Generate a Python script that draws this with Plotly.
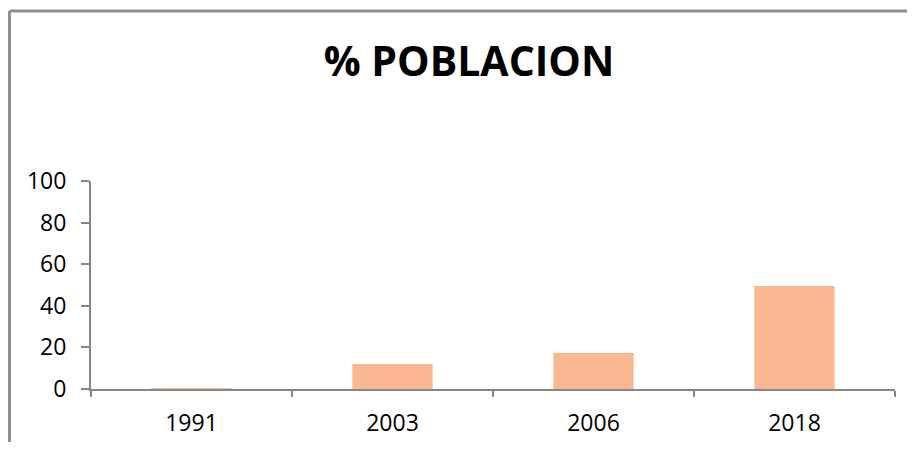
import plotly.graph_objects as go

years = ["1991", "2003", "2006", "2018"]
values = [0.3, 12.0, 17.3, 49.5]
y_ticks = [0, 20, 40, 60, 80, 100]

OFF = 8  # page body margin offset
W, H = 915 - 2 * OFF, 450 - 2 * OFF
L, R, T, B = 91 - OFF, 12, 181 - OFF, 53
pw, ph = W - L - R, H - T - B

fig = go.Figure(go.Bar(x=years, y=values, width=0.4, marker=dict(color="#F9B891", line=dict(width=0))))

axis_col = "#868686"
fig.update_layout(
    width=W, height=H,
    margin=dict(l=L, r=R, t=T, b=B),
    plot_bgcolor="white", paper_bgcolor="white",
    showlegend=False,
    title=dict(text="<b>% POBLACION</b>", x=(469 - OFF) / W, y=1 - (62 - OFF) / H,
               xref="container", yref="container", xanchor="center", yanchor="middle",
               font=dict(family="Open Sans", size=41, color="black")),
    font=dict(family="Open Sans", size=23, color="black"),
    xaxis=dict(type="category", range=[-0.5, 3.5], showline=True, linecolor=axis_col, linewidth=2,
               ticks="outside", tickson="boundaries", ticklen=6, tickwidth=2, tickcolor=axis_col,
               showgrid=False, zeroline=False, ticklabelstandoff=12, automargin=False),
    yaxis=dict(range=[0, 100], tickvals=y_ticks, showline=True, linecolor=axis_col, linewidth=2,
               ticks="outside", ticklen=8, tickwidth=2, tickcolor=axis_col,
               showgrid=False, zeroline=False, ticklabelstandoff=10, automargin=False),
)

# chart frame (extends beyond right/bottom of the view)
fx0 = (1.5 - L) / pw
fx1 = (W - L) / pw
fy0 = (H - B - H) / ph
fy1 = (H - B - 3) / ph
fig.add_shape(type="line", xref="paper", yref="paper", x0=fx0, x1=fx0, y0=fy0, y1=fy1,
              line=dict(color="#8E8E8E", width=3))
fig.add_shape(type="line", xref="paper", yref="paper", x0=fx0, x1=fx1, y0=fy1, y1=fy1,
              line=dict(color="#8E8E8E", width=3))

fig.write_html("out.html", config={"displayModeBar": False})
